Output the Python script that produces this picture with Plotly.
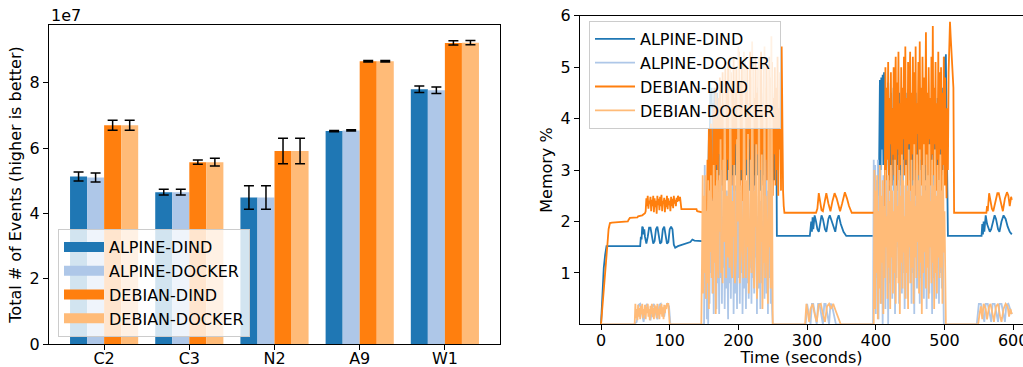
import plotly.graph_objects as go

# ---------------- Left chart data ----------------
CATEGORIES = ["C2", "C3", "N2", "A9", "W1"]
SERIES = ["ALPINE-DIND", "ALPINE-DOCKER", "DEBIAN-DIND", "DEBIAN-DOCKER"]
COLORS = ["#1f77b4", "#aec7e8", "#ff7f0e", "#ffbb78"]

EVENTS_ALPINE_DIND = [5.13e7, 4.65e7, 4.49e7, 6.52e7, 7.80e7]
EVENTS_ALPINE_DOCKER = [5.10e7, 4.65e7, 4.49e7, 6.54e7, 7.77e7]
EVENTS_DEBIAN_DIND = [6.70e7, 5.57e7, 5.91e7, 8.66e7, 9.22e7]
EVENTS_DEBIAN_DOCKER = [6.70e7, 5.57e7, 5.91e7, 8.66e7, 9.23e7]

ERR_ALPINE_DIND = [0.14e7, 0.09e7, 0.36e7, 0.02e7, 0.10e7]
ERR_ALPINE_DOCKER = [0.14e7, 0.09e7, 0.36e7, 0.02e7, 0.10e7]
ERR_DEBIAN_DIND = [0.15e7, 0.065e7, 0.39e7, 0.02e7, 0.065e7]
ERR_DEBIAN_DOCKER = [0.15e7, 0.12e7, 0.39e7, 0.02e7, 0.065e7]

Y1_TICKS = [0, 2e7, 4e7, 6e7, 8e7]
Y1_TICKTEXT = ["0", "2", "4", "6", "8"]

# ---------------- Right chart data (time s, memory %) ----------------
# sparse knots (t, value)
AD_POINTS = [(0, 0), (2, 0.6), (4, 1.1), (6, 1.35), (8, 1.52), (57, 1.52), (58, 1.7), (59, 1.65), (60, 1.9),
             (61, 1.88), (62, 1.75), (63, 1.85), (64, 1.7), (66, 1.57), (68, 1.7), (70, 1.88), (72, 1.88),
             (74, 1.7), (76, 1.57), (78, 1.62), (80, 1.85), (82, 1.9), (84, 1.75), (86, 1.57), (88, 1.6),
             (90, 1.85), (92, 1.9), (94, 1.75), (96, 1.57), (98, 1.6), (100, 1.85), (102, 1.9), (104, 1.85),
             (106, 1.55), (108, 1.49), (112, 1.52), (118, 1.55), (125, 1.58), (130, 1.6), (133, 1.65),
             (136, 1.63), (147, 1.62),
             (256, 1.72), (304, 1.72), (306, 2.0), (307, 1.8), (308, 2.08), (309, 1.85), (311, 2.12),
             (313, 2.0), (315, 1.85), (317, 1.8), (319, 2.0), (321, 2.12), (323, 2.05), (326, 1.85),
             (328, 1.8), (331, 2.05), (333, 2.12), (336, 2.0), (339, 1.85), (341, 1.8), (344, 2.05),
             (346, 2.12), (349, 1.95), (351, 1.85), (353, 1.8), (357, 1.72), (404, 1.72),
             (505, 1.72), (554, 1.72), (555, 1.95), (556, 1.75), (557, 2.0), (558, 1.8), (560, 2.12),
             (562, 1.95), (564, 1.85), (566, 1.8), (568, 1.85), (571, 2.05), (573, 2.12), (575, 2.05),
             (578, 1.85), (580, 1.8), (583, 2.0), (586, 2.12), (589, 2.05), (592, 1.9), (595, 1.8), (598, 1.75)]
AD_BURST_1 = [1.62, 1.62, 1.62, 1.64, 1.65, 1.68, 1.70, 2.2, 2.5, 3.6,
              3.0, 4.5, 3.2, 4.6, 2.9, 4.3, 3.4, 4.6, 3.0, 4.4,
              2.8, 4.5, 3.3, 4.2, 2.9, 4.6, 3.1, 3.9, 2.7, 4.3,
              3.2, 4.0, 2.6, 4.4, 3.0, 4.1, 2.8, 4.5, 3.3, 3.9,
              2.6, 4.3, 3.1, 4.0, 2.7, 4.4, 3.2, 3.8, 2.9, 4.5,
              3.0, 4.2, 2.6, 4.6, 3.3, 4.0, 2.8, 4.4, 3.1, 4.1,
              2.7, 4.5, 3.2, 3.9, 2.9, 4.3, 3.0, 4.0, 2.6, 4.4,
              3.3, 4.1, 2.8, 4.5, 3.1, 3.9, 2.7, 4.3, 3.2, 4.0,
              2.9, 4.6, 3.0, 4.2, 2.6, 4.4, 3.3, 4.0, 2.8, 4.5,
              3.1, 3.9, 2.7, 4.3, 3.2, 4.1, 2.9, 4.6, 3.0, 4.2,
              2.6, 4.4, 3.3, 4.0, 2.8, 4.5, 3.1, 4.5]  # t = 148 ..
AD_BURST_2 = [3.3, 4.75, 3.0, 4.8, 3.4, 4.85, 3.1, 4.9, 3.2, 4.6,
              2.9, 4.4, 3.3, 4.7, 2.8, 4.3, 3.0, 4.5, 2.7, 4.2,
              3.2, 4.6, 2.6, 4.0, 3.1, 4.4, 2.8, 4.1, 3.3, 4.5,
              2.7, 3.9, 3.0, 4.3, 2.6, 4.0, 3.2, 4.4, 2.9, 4.1,
              2.7, 4.5, 3.1, 3.9, 2.8, 4.3, 3.3, 4.0, 2.6, 4.4,
              3.0, 4.1, 2.8, 4.5, 3.2, 3.9, 2.7, 4.3, 3.1, 4.0,
              2.9, 4.4, 3.3, 4.1, 2.6, 4.5, 3.0, 3.9, 2.8, 4.3,
              3.2, 4.0, 2.7, 4.4, 3.1, 4.1, 2.9, 4.5, 3.3, 3.9,
              2.6, 4.3, 3.0, 4.0, 2.8, 4.4, 3.2, 4.1, 2.7, 4.5,
              3.1, 3.9, 2.9, 4.6, 3.2, 5.2, 2.8, 5.25, 4.0, 2.6]  # t = 405 ..

AK_POINTS = [(0, 0), (48, 0), (52, 0.05), (55, 0.38), (57, 0.4), (60, 0.15), (62, 0.05), (65, 0.35),
             (67, 0.4), (70, 0.2), (72, 0.08), (75, 0.35), (77, 0.4), (80, 0.2), (82, 0.1), (85, 0.38),
             (87, 0.4), (90, 0.2), (92, 0.15), (94, 0.35), (97, 0.4), (99, 0.35), (101, 0), (149, 0),
             (297, 0), (298, 0), (300, 0.4), (305, 0.0), (307, 0.4), (309, 0.4), (314, 0), (316, 0.4),
             (318, 0.4), (323, 0), (325, 0.4), (327, 0.4), (332, 0), (334, 0.4), (336, 0.38), (342, 0),
             (395, 0), (499, 0), (547, 0), (550, 0.4), (553, 0.4), (558, 0.05), (560, 0.4), (563, 0.4),
             (568, 0.05), (570, 0.4), (573, 0.4), (578, 0.05), (580, 0.4), (583, 0.4), (588, 0.05),
             (590, 0.38), (593, 0.4), (596, 0.25), (598, 0.2)]
AK_BURST_1 = [0, 3.1, 0.5, 2.0, 0.1, 2.6, 0.0, 1.8, 0.4, 2.9,
              1.0, 4.2, 0.6, 2.4, 0.2, 3.0, 1.2, 2.2, 0.3, 2.7,
              0.8, 1.9, 0.2, 2.5, 0.9, 3.2, 0.4, 2.1, 1.1, 2.8,
              0.3, 1.7, 0.7, 2.6, 1.3, 0.1, 2.4, 0.8, 3.0, 0.5,
              2.0, 1.2, 2.9, 0.2, 1.8, 0.6, 2.7, 1.4, 0.3, 2.3,
              0.9, 3.1, 0.4, 2.0, 1.0, 2.6, 0.2, 1.6, 0.7, 2.8,
              1.5, 0.3, 2.4, 0.8, 3.0, 0.5, 1.9, 1.1, 2.7, 0.4,
              2.2, 0.9, 2.9, 0.6, 1.8, 1.3, 2.5, 0.2, 2.1, 0.7,
              2.8, 1.0, 0.3, 2.4, 0.8, 2.0, 1.4, 2.9, 0.5, 2.2,
              5.0, 0.6, 2.6, 0.2, 1.9, 0.9, 2.4, 0.4, 1.6, 0.3, 0.0]  # t = 150 ..
AK_BURST_2 = [0, 3.2, 0.5, 3.1, 0.2, 2.8, 0.9, 3.2, 0.1, 2.5,
              1.3, 3.0, 0.4, 2.2, 0.0, 2.9, 1.0, 2.4, 0.3, 3.1,
              1.6, 2.0, 0.0, 2.7, 0.8, 2.3, 1.4, 3.0, 0.5, 1.9,
              1.1, 2.8, 0.2, 2.5, 0.9, 3.1, 1.5, 2.1, 0.4, 2.9,
              1.2, 2.4, 0.6, 3.2, 1.0, 2.0, 0.3, 2.7, 1.6, 2.2,
              0.5, 3.0, 0.8, 2.5, 1.3, 2.9, 0.4, 2.1, 1.0, 2.8,
              0.2, 2.4, 1.5, 3.1, 0.7, 2.0, 1.1, 2.6, 0.4, 3.0,
              0.9, 2.3, 1.4, 2.9, 0.5, 2.2, 1.0, 2.7, 0.3, 3.1,
              1.2, 2.0, 0.6, 2.8, 1.5, 2.4, 0.2, 3.0, 0.9, 2.3,
              1.3, 2.9, 0.5, 2.1, 1.1, 2.6, 0.4, 3.2, 1.0, 2.5, 0.7, 2.2, 0.0]  # t = 396 ..

DD_POINTS = [(0, 0), (3, 0.45), (6, 0.9), (9, 1.5), (11, 1.85), (13, 1.97), (16, 1.98), (39, 2.0),
             (40, 2.03), (41, 2.05), (42, 2.07), (53, 2.08), (54, 2.1), (60, 2.12), (62, 2.15), (64, 2.16),
             (117, 2.24), (139, 2.24), (140, 2.2), (147, 2.18),
             (267, 2.17), (313, 2.17), (315, 2.25), (317, 2.55), (319, 2.35), (321, 2.22), (323, 2.2),
             (326, 2.45), (328, 2.55), (331, 2.35), (334, 2.2), (337, 2.4), (340, 2.55), (343, 2.45),
             (346, 2.3), (348, 2.2), (351, 2.35), (355, 2.57), (358, 2.45), (361, 2.3), (365, 2.17),
             (412, 2.17), (515, 2.17), (561, 2.17), (562, 2.3), (563, 2.2), (565, 2.55), (567, 2.4),
             (569, 2.25), (571, 2.2), (574, 2.4), (577, 2.55), (579, 2.55), (582, 2.35), (585, 2.2),
             (588, 2.45), (591, 2.57), (593, 2.5), (595, 2.3), (597, 2.48), (598, 2.42)]
DD_NOISE_1 = [2.2, 2.45, 2.3, 2.5, 2.25, 2.4, 2.35, 2.48, 2.2, 2.42,
              2.3, 2.5, 2.18, 2.45, 2.28, 2.4, 2.15, 2.5, 2.32, 2.44,
              2.22, 2.48, 2.3, 2.52, 2.2, 2.4, 2.35, 2.46, 2.18, 2.42,
              2.28, 2.5, 2.24, 2.45, 2.32, 2.4, 2.2, 2.48, 2.3, 2.44,
              2.26, 2.5, 2.35, 2.42, 2.3, 2.46, 2.38, 2.5, 2.45, 2.4, 2.48, 2.3]  # t = 65 ..
DD_BURST_1 = [2.18, 2.18, 2.19, 2.2, 2.2, 2.22, 2.25, 3.2, 2.4, 3.8,
              2.5, 2.6, 3.9, 2.4, 2.5, 3.0, 4.2, 2.6, 2.7, 4.6,
              3.1, 4.0, 2.5, 4.4, 3.3, 4.8, 2.7, 4.1, 3.0, 4.9,
              2.6, 4.3, 3.4, 5.0, 2.8, 4.5, 3.2, 5.1, 2.5, 4.2,
              3.6, 4.9, 2.7, 4.6, 3.1, 5.2, 2.6, 4.0, 3.5, 5.0,
              2.9, 4.4, 3.3, 5.3, 2.6, 4.7, 3.0, 5.1, 2.4, 4.3,
              3.4, 5.2, 2.8, 4.6, 3.2, 5.0, 2.5, 4.2, 3.6, 5.3,
              2.7, 4.8, 3.1, 5.1, 2.6, 4.4, 3.5, 5.2, 2.9, 4.5,
              3.3, 5.0, 2.4, 4.7, 3.0, 5.3, 2.7, 4.1, 3.4, 5.1,
              2.5, 4.6, 3.2, 5.0, 2.8, 4.3, 3.6, 5.2, 2.6, 4.8,
              3.1, 5.1, 2.5, 4.4, 3.3, 5.0, 2.7, 4.6, 3.0, 5.2,
              2.5, 4.2, 3.4, 4.9, 2.6, 5.4, 3.2, 2.6, 2.3]  # t = 148 ..
DD_BURST_2 = [2.17, 5.0, 2.8, 4.6, 3.2, 5.1, 2.6, 4.4, 3.5, 4.9,
              2.7, 4.2, 3.3, 5.0, 2.9, 4.5, 5.2, 2.6, 4.7, 3.4,
              5.3, 2.8, 4.3, 3.1, 5.0, 2.5, 4.6, 3.6, 5.2, 2.9,
              5.4, 3.2, 4.4, 2.7, 5.1, 3.5, 4.8, 5.3, 2.6, 4.5,
              3.3, 5.2, 2.8, 4.9, 3.0, 5.4, 2.5, 4.3, 3.7, 5.1,
              2.9, 5.5, 3.2, 4.6, 2.7, 5.2, 3.4, 4.8, 2.6, 5.3,
              5.68, 3.1, 4.5, 2.8, 5.0, 3.6, 4.4, 2.7, 5.2, 3.3,
              5.8, 2.9, 4.6, 3.5, 5.1, 2.6, 4.3, 3.2, 5.3, 2.8,
              4.9, 3.4, 5.0, 2.5, 4.5, 3.1, 5.2, 2.7, 4.8, 3.3,
              2.45, 4.2, 3.0, 4.9, 5.4, 5.88, 5.6, 5.3, 5.0, 4.7,
              4.6, 2.17]  # t = 413 ..

DK_POINTS = [(0, 0), (47, 0), (145, 0), (251, 0), (296, 0),
             (297, 0), (299, 0.4), (301, 0.2), (303, 0.05), (305, 0.3), (308, 0.4), (311, 0.2), (314, 0.05),
             (317, 0.38), (320, 0.4), (323, 0.2), (326, 0.05), (329, 0.35), (332, 0.4), (335, 0.3),
             (338, 0.4), (342, 0.25), (346, 0.1), (349, 0), (396, 0), (502, 0), (548, 0),
             (549, 0), (551, 0.2), (553, 0.35), (555, 0.1), (557, 0.4), (560, 0.3), (562, 0.1), (565, 0.35),
             (567, 0.4), (570, 0.2), (572, 0.05), (575, 0.35), (578, 0.4), (581, 0.15), (583, 0.05),
             (586, 0.3), (589, 0.4), (592, 0.35), (594, 0.15), (596, 0.3), (598, 0.2)]
DK_LOW_1 = [0, 0, 0.4, 0.12, 0.3, 0.08, 0.38, 0.15, 0.32, 0.1,
            0.36, 0.2, 0.4, 0.12, 0.3, 0.18, 0.38, 0.1, 0.34, 0.22,
            0.4, 0.15, 0.3, 0.08, 0.36, 0.2, 0.4, 0.14, 0.32, 0.1,
            0.38, 0.22, 0.35, 0.12, 0.4, 0.18, 0.3, 0.1, 0.36, 0.2,
            0.4, 0.15, 0.33, 0.1, 0.38, 0.22, 0.36, 0.3, 0.4, 0.4,
            0.4, 0.2, 0]  # t = 48 ..
DK_BURST_1 = [0, 1.2, 2.9, 0.6, 2.5, 1.0, 2.9, 0.5, 2.2, 0.8,
              2.8, 0.3, 2.6, 1.4, 2.9, 0.9, 2.4, 0.6, 3.1, 1.2,
              2.7, 0.2, 1.5, 3.0, 1.1, 0.9, 2.8, 1.8, 3.6, 1.0,
              1.4, 0.8, 3.2, 1.6, 4.6, 1.2, 0.9, 2.5, 1.9, 1.3,
              3.0, 1.1, 5.2, 1.5, 1.0, 0.9, 2.4, 1.7, 3.1, 0.8,
              1.3, 1.4, 3.6, 2.0, 5.4, 1.1, 0.8, 1.6, 2.7, 1.6,
              1.2, 0.9, 5.3, 2.1, 1.4, 0.9, 2.8, 1.5, 3.7, 0.6,
              1.1, 1.8, 3.2, 1.0, 5.5, 1.4, 1.0, 0.7, 2.6, 1.9,
              3.5, 0.5, 1.2, 1.3, 5.2, 0.8, 1.9, 1.6, 3.3, 0.3,
              1.4, 1.2, 5.4, 0.9, 2.5, 1.7, 1.1, 0.4, 5.0, 1.5,
              2.6, 0.7, 5.6, 1.0, 0.0]  # t = 146 ..
DK_BURST_2 = [0, 3.0, 0.3, 2.6, 1.0, 2.9, 0.1, 2.2, 0.7, 3.1,
              0.4, 2.5, 1.2, 2.8, 0.2, 2.3, 0.9, 3.0, 1.5, 2.1,
              0.5, 2.9, 1.1, 2.4, 0.3, 3.1, 1.3, 2.6, 0.6, 2.2,
              1.0, 3.2, 0.4, 2.7, 1.6, 2.3, 0.8, 3.0, 0.2, 2.5,
              1.2, 3.3, 0.7, 2.8, 1.4, 2.1, 0.5, 3.1, 1.0, 2.6,
              0.3, 3.4, 1.5, 2.4, 0.8, 3.2, 1.1, 2.7, 0.4, 3.5,
              1.3, 2.3, 0.9, 3.3, 1.6, 2.8, 0.6, 3.4, 1.2, 2.5,
              0.2, 3.1, 1.0, 3.5, 1.4, 2.6, 0.7, 3.3, 1.1, 2.9,
              0.5, 3.5, 1.5, 2.4, 0.8, 3.2, 1.2, 2.7, 0.3, 3.4,
              1.0, 2.5, 0.6, 3.1, 1.3, 2.8, 0.9, 3.3, 1.1, 2.6,
              0.4, 3.0, 1.4, 2.2, 0.0]  # t = 397 ..

X2_TICKS = [0, 100, 200, 300, 400, 500, 600]
Y2_TICKS = [1, 2, 3, 4, 5, 6]


def build(points, bursts):
    pts = list(points)
    for t0, vals in bursts:
        pts += [(t0 + i, v) for i, v in enumerate(vals)]
    pts.sort(key=lambda p: p[0])
    return [p[0] for p in pts], [p[1] for p in pts]


TS = [
    build(AD_POINTS, [(148, AD_BURST_1), (405, AD_BURST_2)]),
    build(AK_POINTS, [(150, AK_BURST_1), (396, AK_BURST_2)]),
    build(DD_POINTS, [(65, DD_NOISE_1), (148, DD_BURST_1), (413, DD_BURST_2)]),
    build(DK_POINTS, [(48, DK_LOW_1), (146, DK_BURST_1), (397, DK_BURST_2)]),
]

BAR_VALUES = [EVENTS_ALPINE_DIND, EVENTS_ALPINE_DOCKER, EVENTS_DEBIAN_DIND, EVENTS_DEBIAN_DOCKER]
BAR_ERRS = [ERR_ALPINE_DIND, ERR_ALPINE_DOCKER, ERR_DEBIAN_DIND, ERR_DEBIAN_DOCKER]

W, H = 1023, 367
FONT = "DejaVu Sans"
FS = 16

fig = go.Figure()

for name, color, vals, errs in zip(SERIES, COLORS, BAR_VALUES, BAR_ERRS):
    fig.add_trace(go.Bar(
        x=CATEGORIES, y=vals, name=name, showlegend=False,
        marker=dict(color=color, line=dict(width=0)),
        error_y=dict(type="data", array=errs, visible=True, color="black", thickness=1.5, width=5),
        xaxis="x", yaxis="y", hoverinfo="skip"))

# legend handles (rectangular patches) for bar chart
for name, color in zip(SERIES, COLORS):
    fig.add_trace(go.Scatter(
        x=[None], y=[None], mode="lines", name=name, line=dict(color=color, width=12),
        legend="legend", legendgroup="b" + name, xaxis="x", yaxis="y"))

for name, color, (t, v) in zip(SERIES, COLORS, TS):
    fig.add_trace(go.Scatter(
        x=t, y=v, mode="lines", name=name, line=dict(color=color, width=1.8),
        legend="legend2", legendgroup="l" + name, xaxis="x2", yaxis="y2", hoverinfo="skip"))

axis_common = dict(showline=True, linecolor="black", linewidth=1, ticks="outside", ticklen=5,
                   tickcolor="black", tickwidth=1, showgrid=False, zeroline=False, automargin=False,
                   tickfont=dict(family=FONT, size=FS, color="black"))

legend_common = dict(bgcolor="rgba(255,255,255,0.8)", bordercolor="#cccccc", borderwidth=1,
                     font=dict(family=FONT, size=FS, color="black"), tracegroupgap=0,
                     itemwidth=40, xanchor="left")

fig.update_layout(
    width=W, height=H,
    margin=dict(l=0, r=0, t=0, b=0),
    paper_bgcolor="white", plot_bgcolor="white",
    font=dict(family=FONT, size=FS, color="black"),
    barmode="group", bargap=0.2, bargroupgap=0,
    xaxis=dict(domain=[49 / W, 500 / W], anchor="y", type="category", range=[-0.647, 4.647],
               mirror=True, ticklabelstandoff=-5, **axis_common),
    yaxis=dict(domain=[1 - 344 / H, 1 - 25 / H], anchor="x", range=[0, 9.77e7],
               tickvals=Y1_TICKS, ticktext=Y1_TICKTEXT, mirror=True,
               title=dict(text="Total # of Events (higher is better)", standoff=4,
                          font=dict(family=FONT, size=FS)),
               **axis_common),
    xaxis2=dict(domain=[580 / W, 1.0], anchor="y2", range=[-30.6, 614.3], tickvals=X2_TICKS,
                mirror=True, ticklabelstandoff=-4, ticklabeloverflow="allow",
                title=dict(text="Time (seconds)", standoff=2, font=dict(family=FONT, size=FS)),
                **axis_common),
    yaxis2=dict(domain=[1 - 324.4 / H, 1 - 15.7 / H], anchor="x2", range=[0, 6], tickvals=Y2_TICKS,
                title=dict(text="Memory %", standoff=4, font=dict(family=FONT, size=FS)),
                **axis_common),
    legend=dict(x=58 / W, y=1 - 337 / H, yanchor="bottom", **legend_common),
    legend2=dict(x=589 / W, y=1 - 21 / H, yanchor="top", **legend_common),
    annotations=[dict(text="1e7", x=49 / W, y=1 - 15 / H, xref="paper", yref="paper",
                      xanchor="left", yanchor="middle", showarrow=False,
                      font=dict(family=FONT, size=FS, color="black"))],
)

fig.write_html("out.html", config={"displayModeBar": False},
               post_script="document.body.style.margin='0';document.body.style.overflow='hidden';")
